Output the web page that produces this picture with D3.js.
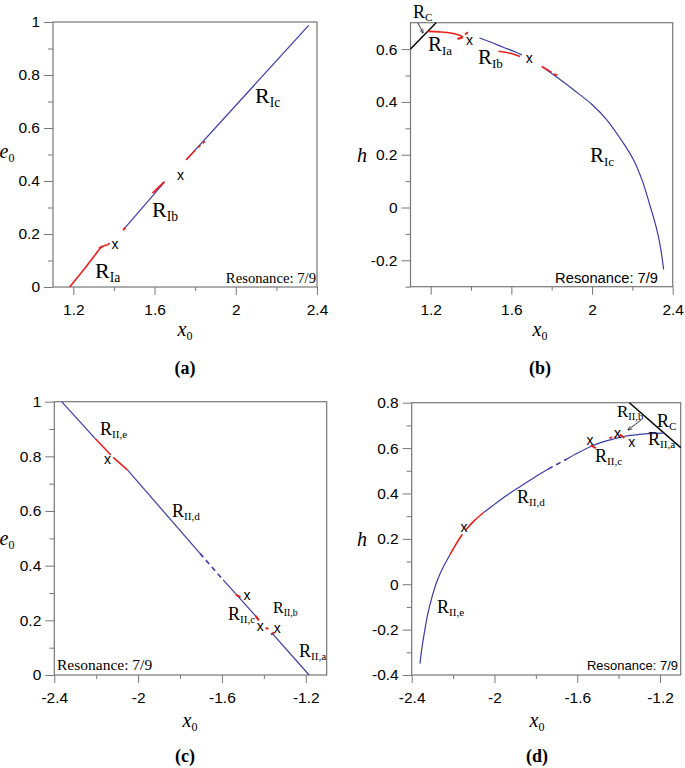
<!DOCTYPE html>
<html>
<head>
<meta charset="utf-8">
<script src="https://cdn.jsdelivr.net/npm/d3@7"></script>
<style>
  body { margin: 0; background: #fff; }
  .tick text { font-family: "Liberation Sans", Arial, sans-serif; font-size: 15.5px; fill: #000; }
  .tick line { stroke: #777; }
</style>
</head>
<body>
<script>
// ---- tick values ----
const xTicksPos = [1.2, 1.6, 2, 2.4];
const xMinorPos = [1.4, 1.8, 2.2];
const xTicksNeg = [-2.4, -2, -1.6, -1.2];
const xMinorNeg = [-2.2, -1.8, -1.4];
const eTicks = [0, 0.2, 0.4, 0.6, 0.8, 1];
const eMinor = [0.1, 0.3, 0.5, 0.7, 0.9];
const hTicksB = [-0.2, 0, 0.2, 0.4, 0.6];
const hMinorB = [-0.3, -0.1, 0.1, 0.3, 0.5];
const hTicksD = [-0.4, -0.2, 0, 0.2, 0.4, 0.6, 0.8];
const hMinorD = [-0.3, -0.1, 0.1, 0.3, 0.5, 0.7];

// ---- panel (a): e0 vs x0, family I ----
const aIaRed = [[1.182, 0], [1.25, 0.064], [1.31, 0.124], [1.335, 0.148], [1.35, 0.156], [1.365, 0.158], [1.38, 0.166]];
const aIaHook = [[1.343, 0.153], [1.326, 0.146]];
const aIbBlue = [[1.449, 0.218], [1.649, 0.396]];
const aIbRed = [[1.59, 0.354], [1.649, 0.398]];
const aIbRed2 = [[1.446, 0.214], [1.455, 0.224]];
const aIcBlue = [[1.756, 0.48], [2.359, 0.987]];
const aIcRed = [[1.756, 0.48], [1.80, 0.516]];
const aIcRed2 = [[1.815, 0.527], [1.85, 0.55]];
const aCross = [[1.405, 0.163], [1.728, 0.424]];

// ---- panel (b): h vs x0, family I ----
const bRC = [[1.1, 0.6], [1.227, 0.7]];
const bIaRed = [[1.183, 0.667], [1.25, 0.665], [1.3, 0.661], [1.34, 0.653], [1.36, 0.645]];
const bIaHook = [[1.36, 0.645], [1.333, 0.638]];
const bIaRed2 = [[1.37, 0.655], [1.385, 0.664]];
const bIbBlue = [[1.442, 0.642], [1.5, 0.626], [1.56, 0.607], [1.62, 0.589], [1.652, 0.578]];
const bIbRed = [[1.536, 0.592], [1.6, 0.583], [1.643, 0.572]];
const bIcBlue = [[1.751, 0.534], [1.85, 0.48], [1.908, 0.446], [2.0, 0.39], [2.073, 0.332], [2.15, 0.25], [2.206, 0.18], [2.25, 0.1], [2.289, 0.003], [2.32, -0.08], [2.339, -0.149], [2.355, -0.235]];
const bIcRed = [[1.751, 0.534], [1.8, 0.512]];
const bIcRed2 = [[1.81, 0.506], [1.84, 0.498]];
const bCross = [[1.392, 0.633], [1.689, 0.568]];

// ---- panel (c): e0 vs x0, family II ----
const cBlue1 = [[-2.365, 1], [-2.206, 0.866]];
const cRed1 = [[-2.206, 0.866], [-2.13, 0.805]];
const cRed2 = [[-2.119, 0.796], [-2.05, 0.75]];
const cBlue2 = [[-2.05, 0.75], [-1.705, 0.445]];
const cDash = [[-1.705, 0.445], [-1.594, 0.348]];
const cBlue3 = [[-1.594, 0.348], [-1.426, 0.205]];
const cRed3 = [[-1.532, 0.294], [-1.512, 0.284]];
const cRed4 = [[-1.44, 0.216], [-1.424, 0.2]];
const cRed5 = [[-1.392, 0.172], [-1.372, 0.168]];
const cRed6 = [[-1.35, 0.156], [-1.366, 0.148]];
const cBlue4 = [[-1.36, 0.152], [-1.184, 0]];
const cCross = [[-2.146, 0.789], [-1.48, 0.293], [-1.417, 0.18], [-1.336, 0.172]];

// ---- panel (d): h vs x0, family II ----
const dRC = [[-1.348, 0.8], [-1.1, 0.602]];
const dBlue1 = [[-2.36, -0.35], [-2.352, -0.29], [-2.34, -0.22], [-2.322, -0.13], [-2.3, -0.05], [-2.275, 0.02], [-2.245, 0.08], [-2.215, 0.13]];
const dRed1 = [[-2.215, 0.13], [-2.185, 0.178], [-2.155, 0.22]];
const dRed2 = [[-2.14, 0.238], [-2.1, 0.278], [-2.054, 0.315]];
const dBlue2 = [[-2.054, 0.315], [-2.0, 0.352], [-1.94, 0.392], [-1.877, 0.43], [-1.8, 0.475], [-1.74, 0.508]];
const dDash = [[-1.74, 0.508], [-1.65, 0.552]];
const dBlue3 = [[-1.65, 0.552], [-1.6, 0.577], [-1.54, 0.605], [-1.48, 0.626], [-1.42, 0.641], [-1.37, 0.652], [-1.3, 0.66], [-1.25, 0.664], [-1.184, 0.666]];
const dRed3 = [[-1.535, 0.612], [-1.51, 0.6]];
const dRed4 = [[-1.445, 0.645], [-1.415, 0.648]];
const dRed5 = [[-1.395, 0.66], [-1.372, 0.645]];
const dCross = [[-2.147, 0.254], [-1.538, 0.636], [-1.406, 0.665], [-1.337, 0.628]];

const BLUE = '#3b3ba6', RED = '#e8221c';

const svg = d3.select('body').append('svg')
  .attr('width', 685).attr('height', 768);

const panels = [
  { left: 53, right: 317, top: 22, bottom: 287, xDomain: [1.1, 2.4], yDomain: [0, 1],
    xTicks: xTicksPos, xMinor: xMinorPos, yTicks: eTicks, yMinor: eMinor,
    yName: 'e', ySub: '0', yLabelPos: [7, 158], xLabelPos: [185, 336], caption: '(a)', capPos: [185, 374],
    curves: [
      { d: aIcBlue, c: BLUE }, { d: aIbBlue, c: BLUE },
      { d: aIaRed, c: RED, w: 1.6 }, { d: aIaHook, c: RED, w: 2 },
      { d: aIbRed, c: RED, w: 1.8 }, { d: aIbRed2, c: RED, w: 2 },
      { d: aIcRed, c: RED, w: 1.6 }, { d: aIcRed2, c: RED, w: 1.6, dash: '3,3' }
    ],
    cross: aCross,
    labels: [[95, 278, 'Ia', 22], [152, 217, 'Ib', 22], [255, 103, 'Ic', 22]],
    res: { x: 316, y: 283, anchor: 'end', font: 'Liberation Serif', size: 14.7 } },
  { left: 410.5, right: 672.7, top: 22.7, bottom: 286.7, xDomain: [1.1, 2.4], yDomain: [-0.3, 0.7],
    xTicks: xTicksPos, xMinor: xMinorPos, yTicks: hTicksB, yMinor: hMinorB,
    yName: 'h', ySub: '', yLabelPos: [362, 162], xLabelPos: [540, 336], caption: '(b)', capPos: [540, 374],
    curves: [
      { d: bRC, c: '#000', w: 1.4 },
      { d: bIcBlue, c: BLUE }, { d: bIbBlue, c: BLUE },
      { d: bIaRed, c: RED, w: 1.6 }, { d: bIaHook, c: RED, w: 2 }, { d: bIaRed2, c: RED, w: 1.8 },
      { d: bIbRed, c: RED, w: 1.6 },
      { d: bIcRed, c: RED, w: 1.6 }, { d: bIcRed2, c: RED, w: 1.6, dash: '4,3' }
    ],
    cross: bCross,
    labels: [[413, 18, 'C', 18], [428, 51, 'Ia', 21], [478, 64, 'Ib', 21], [590, 162, 'Ic', 21]],
    arrow: [[418, 23], [423, 33]],
    res: { x: 658, y: 283, anchor: 'end', font: 'Liberation Sans', size: 14.7 } },
  { left: 54.3, right: 326.7, top: 401.7, bottom: 675, xDomain: [-2.4, -1.1], yDomain: [0, 1],
    xTicks: xTicksNeg, xMinor: xMinorNeg, yTicks: eTicks, yMinor: eMinor,
    yName: 'e', ySub: '0', yLabelPos: [7, 545], xLabelPos: [190, 727], caption: '(c)', capPos: [185, 762],
    curves: [
      { d: cBlue1, c: BLUE }, { d: cRed1, c: RED, w: 1.6 }, { d: cRed2, c: RED, w: 1.6 },
      { d: cBlue2, c: BLUE }, { d: cDash, c: BLUE, w: 1.6, dash: '5,4' }, { d: cBlue3, c: BLUE },
      { d: cRed3, c: RED, w: 2 }, { d: cRed4, c: RED, w: 2 }, { d: cRed5, c: RED, w: 2, dash: '3,2' },
      { d: cRed6, c: RED, w: 2 }, { d: cBlue4, c: BLUE }
    ],
    cross: cCross,
    labels: [[100, 435, 'II,e', 18], [172, 517, 'II,d', 18], [228, 620, 'II,c', 18], [273, 613, 'II,b', 16], [299, 657, 'II,a', 18]],
    res: { x: 57, y: 670, anchor: 'start', font: 'Liberation Serif', size: 15.5 } },
  { left: 411.7, right: 680.7, top: 402.7, bottom: 675, xDomain: [-2.4, -1.1], yDomain: [-0.4, 0.8],
    xTicks: xTicksNeg, xMinor: xMinorNeg, yTicks: hTicksD, yMinor: hMinorD,
    yName: 'h', ySub: '', yLabelPos: [362, 546], xLabelPos: [537, 727], caption: '(d)', capPos: [537, 762],
    curves: [
      { d: dRC, c: '#000', w: 1.4 },
      { d: dBlue1, c: BLUE }, { d: dRed1, c: RED, w: 1.6 }, { d: dRed2, c: RED, w: 1.6 },
      { d: dBlue2, c: BLUE }, { d: dDash, c: BLUE, w: 1.6, dash: '5,4' }, { d: dBlue3, c: BLUE },
      { d: dRed3, c: RED, w: 2 }, { d: dRed4, c: RED, w: 2, dash: '3,2' }, { d: dRed5, c: RED, w: 2 }
    ],
    cross: dCross,
    labels: [[617, 417, 'II,b', 17], [657, 427, 'C', 18], [595, 462, 'II,c', 18], [648, 445, 'II,a', 18], [517, 503, 'II,d', 18], [437, 613, 'II,e', 18]],
    arrow: [[641, 420], [628, 430]],
    res: { x: 678, y: 670, anchor: 'end', font: 'Liberation Sans', size: 13 } }
];

svg.append('defs').append('marker')
  .attr('id', 'arr').attr('viewBox', '0 0 10 10').attr('refX', 9).attr('refY', 5)
  .attr('markerWidth', 6).attr('markerHeight', 6).attr('orient', 'auto')
  .append('path').attr('d', 'M0,1 L10,5 L0,9').attr('fill', 'none').attr('stroke', '#000').attr('stroke-width', 1.2);

const fmt = d => String(d);

panels.forEach(p => {
  const x = d3.scaleLinear().domain(p.xDomain).range([p.left, p.right]);
  const y = d3.scaleLinear().domain(p.yDomain).range([p.bottom, p.top]);
  const g = svg.append('g');

  // minor ticks
  g.append('g').attr('transform', `translate(0,${p.bottom})`)
    .call(d3.axisBottom(x).tickValues(p.xMinor).tickSize(4).tickFormat(''))
    .select('.domain').remove();
  g.append('g').attr('transform', `translate(${p.left},0)`)
    .call(d3.axisLeft(y).tickValues(p.yMinor).tickSize(5).tickFormat(''))
    .select('.domain').remove();
  // major ticks
  g.append('g').attr('transform', `translate(0,${p.bottom})`)
    .call(d3.axisBottom(x).tickValues(p.xTicks).tickSize(8).tickPadding(9).tickFormat(fmt))
    .select('.domain').remove();
  g.append('g').attr('transform', `translate(${p.left},0)`)
    .call(d3.axisLeft(y).tickValues(p.yTicks).tickSize(9).tickPadding(4).tickFormat(fmt))
    .select('.domain').remove();

  g.append('rect')
    .attr('x', p.left).attr('y', p.top)
    .attr('width', p.right - p.left).attr('height', p.bottom - p.top)
    .attr('fill', 'none').attr('stroke', '#777').attr('stroke-width', 1.2);

  const line = d3.line().x(d => x(d[0])).y(d => y(d[1])).curve(d3.curveCatmullRom);
  p.curves.forEach(c => {
    g.append('path').datum(c.d)
      .attr('d', line)
      .attr('fill', 'none')
      .attr('stroke', c.c)
      .attr('stroke-width', c.w || 1.2)
      .attr('stroke-dasharray', c.dash || null);
  });

  g.selectAll('.cross').data(p.cross).enter().append('text')
    .attr('x', d => x(d[0])).attr('y', d => y(d[1]))
    .attr('text-anchor', 'middle').attr('dominant-baseline', 'central')
    .attr('font-family', 'Liberation Sans, Arial, sans-serif').attr('font-size', 14)
    .text('x');

  p.labels.forEach(l => {
    const t = g.append('text').attr('x', l[0]).attr('y', l[1])
      .attr('font-family', 'Liberation Serif, Times New Roman, serif').attr('font-size', l[3]);
    t.append('tspan').text('R');
    t.append('tspan').attr('dy', '0.3em').attr('font-size', l[3] * 0.62).text(l[2]);
  });

  if (p.arrow) {
    g.append('line')
      .attr('x1', p.arrow[0][0]).attr('y1', p.arrow[0][1])
      .attr('x2', p.arrow[1][0]).attr('y2', p.arrow[1][1])
      .attr('stroke', '#000').attr('stroke-width', 0.8).attr('marker-end', 'url(#arr)');
  }

  g.append('text').attr('x', p.res.x).attr('y', p.res.y)
    .attr('text-anchor', p.res.anchor)
    .attr('font-family', p.res.font).attr('font-size', p.res.size)
    .text('Resonance: 7/9');

  // axis titles
  const yl = g.append('text').attr('x', p.yLabelPos[0]).attr('y', p.yLabelPos[1])
    .attr('text-anchor', 'middle').attr('font-family', 'Liberation Serif, serif')
    .attr('font-style', 'italic').attr('font-size', 20);
  yl.append('tspan').text(p.yName);
  if (p.ySub) yl.append('tspan').attr('dy', '0.3em').attr('font-size', 12).attr('font-style', 'normal').text(p.ySub);

  const xl = g.append('text').attr('x', p.xLabelPos[0]).attr('y', p.xLabelPos[1])
    .attr('text-anchor', 'middle').attr('font-family', 'Liberation Serif, serif')
    .attr('font-style', 'italic').attr('font-size', 20);
  xl.append('tspan').text('x');
  xl.append('tspan').attr('dy', '0.3em').attr('font-size', 12).attr('font-style', 'normal').text('0');

  g.append('text').attr('x', p.capPos[0]).attr('y', p.capPos[1])
    .attr('text-anchor', 'middle').attr('font-family', 'Liberation Serif, serif')
    .attr('font-weight', 'bold').attr('font-size', 18)
    .text(p.caption);
});
</script>
</body>
</html>
